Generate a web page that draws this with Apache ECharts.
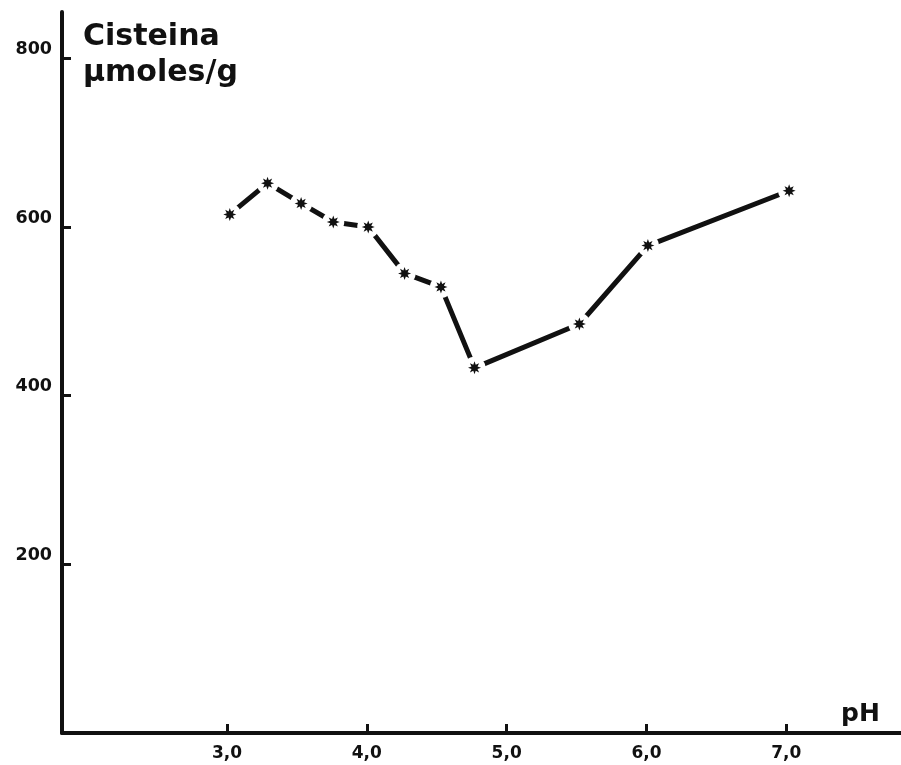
<!DOCTYPE html>
<html>
<head>
<meta charset="utf-8">
<script src="https://cdn.jsdelivr.net/npm/echarts@6/dist/echarts.min.js"></script>
<style>html,body{margin:0;padding:0;background:#fff}#c{width:901px;height:765px}</style>
</head>
<body>
<div id="c"></div>
<script>
// Data
const phValues = [3.02, 3.29, 3.53, 3.76, 4.01, 4.27, 4.53, 4.77, 5.52, 6.01, 7.02];
const cisteina = [615, 652, 628, 606, 600, 545, 529, 433, 485, 578, 643];
const xTicks = [3, 4, 5, 6, 7];
const yTicks = [200, 400, 600, 800];
const yTitle = 'Cisteina\nμmoles/g';
const xTitle = 'pH';

const points = phValues.map((x, i) => [x, cisteina[i]]);

function starPath(n, ro, ri) {
  let d = '';
  for (let k = 0; k < 2 * n; k++) {
    const r = k % 2 === 0 ? ro : ri;
    const a = Math.PI * k / n - Math.PI / 2;
    d += (k === 0 ? 'M' : 'L') + (r * Math.cos(a)).toFixed(3) + ' ' + (r * Math.sin(a)).toFixed(3);
  }
  return 'path://' + d + 'Z';
}

const chart = echarts.init(document.getElementById('c'), null, {renderer: 'canvas'});
const fam = 'DejaVu Sans, Liberation Sans, sans-serif';
chart.setOption({
  backgroundColor: '#fff',
  animation: false,
  title: [
    {text: yTitle, left: 78, top: 14,
     textStyle: {fontFamily: fam, fontSize: 30, fontWeight: 'bold', lineHeight: 36, color: '#111'}},
    {text: xTitle, left: 836, top: 697,
     textStyle: {fontFamily: fam, fontSize: 25, fontWeight: 'bold', color: '#111'}}
  ],
  grid: {left: 62, right: 0, top: 12, bottom: 32, containLabel: false},
  xAxis: {
    type: 'value', min: 1.82, max: 7.82,
    axisLine: {show: true, lineStyle: {color: '#111', width: 4}},
    axisTick: {show: true, inside: true, length: 9, lineStyle: {color: '#111', width: 3}, customValues: xTicks},
    axisLabel: {show: true, margin: 12, customValues: xTicks,
      formatter: v => v.toFixed(1).replace('.', ','),
      fontFamily: fam, fontSize: 17, fontWeight: 'bold', color: '#111'},
    splitLine: {show: false}
  },
  yAxis: {
    type: 'value', min: 0, max: 855,
    axisLine: {show: true, lineStyle: {color: '#111', width: 4}},
    axisTick: {show: true, inside: true, length: 9, lineStyle: {color: '#111', width: 3}, customValues: yTicks},
    axisLabel: {show: true, margin: 10, customValues: yTicks, verticalAlign: 'bottom',
      fontFamily: fam, fontSize: 17.5, fontWeight: 'bold', color: '#111'},
    splitLine: {show: false}
  },
  series: [
    {type: 'line', data: points, showSymbol: false, symbol: 'none', z: 2,
     lineStyle: {color: '#111', width: 5}},
    {type: 'scatter', data: points, symbol: 'circle', symbolSize: 22, z: 3,
     itemStyle: {color: '#fff', opacity: 1}},
    {type: 'scatter', data: points, symbol: starPath(8, 1, 0.5), symbolSize: 13, z: 4,
     itemStyle: {color: '#111', opacity: 1}}
  ]
});
</script>
</body>
</html>
